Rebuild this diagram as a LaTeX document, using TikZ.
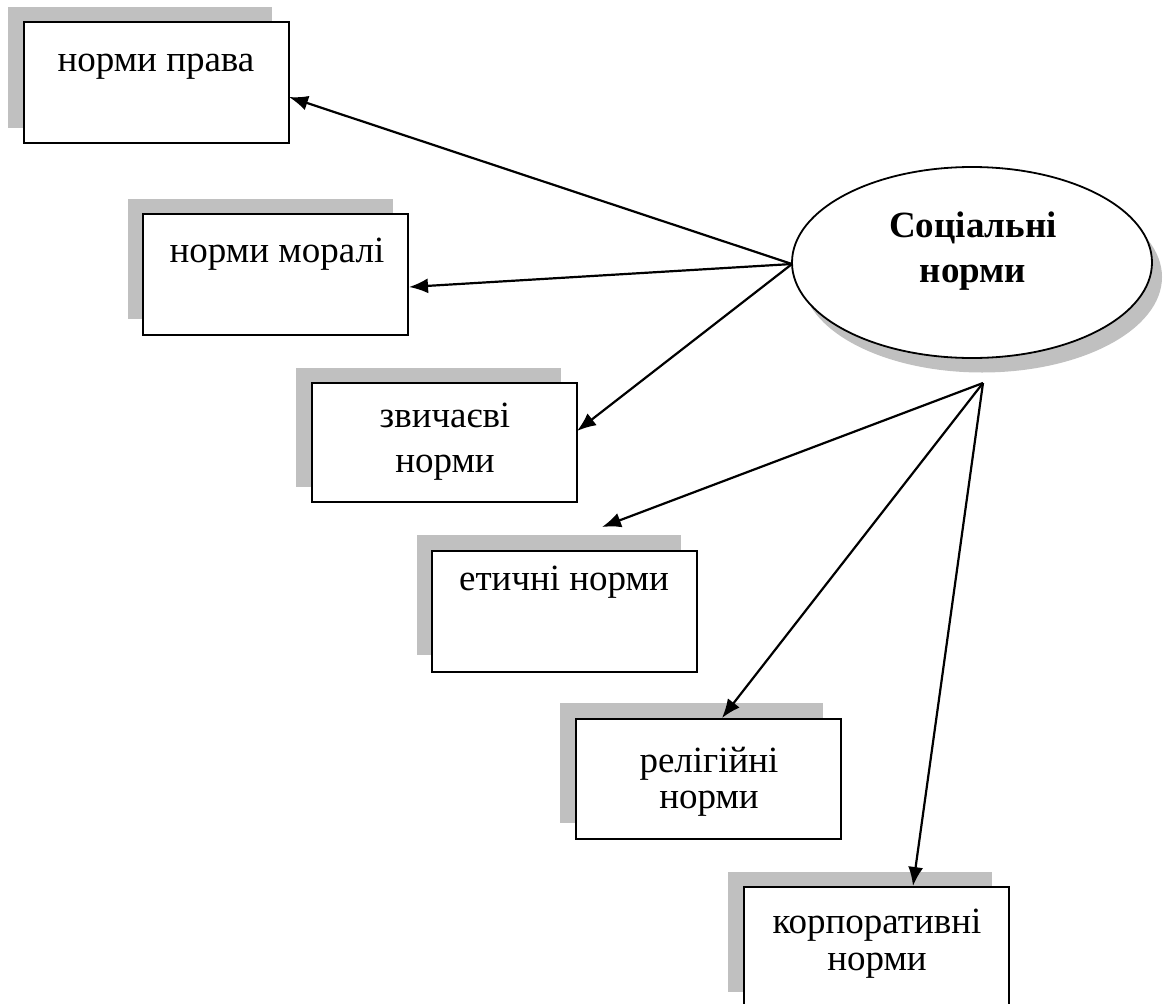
\documentclass[tikz,border=0pt]{standalone}
\usepackage{fontspec}
\setmainfont{Liberation Serif}
\usetikzlibrary{shapes.geometric,arrows.meta}
\definecolor{shadowgray}{RGB}{192,192,192}
\tikzset{
  boxnode/.style={draw=black, line width=2pt, fill=white, anchor=north west,
    minimum width=265pt, minimum height=121pt, inner sep=0pt, outer sep=0pt},
  shadowfill/.style={fill=shadowgray, draw=none},
  txt/.style={font=\fontsize{37pt}{44pt}\selectfont, anchor=base, inner sep=0pt},
  btxt/.style={font=\fontsize{37pt}{44pt}\selectfont\bfseries, anchor=base, inner sep=0pt},
  arr/.style={line width=2.2pt, -{Latex[length=19pt,width=15pt]}},
}
\begin{document}
\begin{tikzpicture}[x=1pt,y=-1pt]
\useasboundingbox (0,0) rectangle (1165,1004);
% shadows of boxes
\fill[shadowfill] (8,7) rectangle (272,128);
\fill[shadowfill] (128,199) rectangle (393,319);
\fill[shadowfill] (296,368) rectangle (561,487);
\fill[shadowfill] (417,535) rectangle (681,655);
\fill[shadowfill] (560,703) rectangle (823,823);
\fill[shadowfill] (728,872) rectangle (992,992);
% boxes
\node[boxnode] (b1) at (24,22) {};
\node[boxnode] (b2) at (143,214) {};
\node[boxnode, minimum height=119pt] (b3) at (312,383) {};
\node[boxnode] (b4) at (432,551) {};
\node[boxnode, minimum height=120pt] (b5) at (576,719) {};
\node[boxnode] (b6) at (744,887) {};
% texts
\node[txt] (t1) at (156,71) {норми права};
\node[txt] (t2) at (277,262) {норми моралі};
\node[txt] (t3a) at (445,427) {звичаєві};
\node[txt] (t3b) at (445,472) {норми};
\node[txt] (t4) at (564,590) {етичні норми};
\node[txt] (t5a) at (709,772) {релігійні};
\node[txt] (t5b) at (709,808) {норми};
\node[txt] (t6a) at (877,933) {корпоративні};
\node[txt] (t6b) at (877,970) {норми};
% ellipse
\node[ellipse, shadowfill, minimum width=360pt, minimum height=191pt, inner sep=0pt] (Es) at (982,277) {};
\node[ellipse, draw=black, line width=1.8pt, fill=white, minimum width=360pt, minimum height=191pt, inner sep=0pt, outer sep=0pt] (E) at (972,262.5) {};
\node[btxt] (te1) at (973,237) {Соціальні};
\node[btxt] (te2) at (973,282) {норми};
% connectors
\coordinate (o1) at (792,264);
\coordinate (o2) at (983,383);
\coordinate (a1) at (289,97);
\coordinate (a2) at (409,287);
\coordinate (a3) at (577,431);
\coordinate (a4) at (602,527);
\coordinate (a5) at (722,718);
\coordinate (a6) at (913,886);
\draw[arr] (o1) -- (a1);
\draw[arr] (o1) -- (a2);
\draw[arr] (o1) -- (a3);
\draw[arr] (o2) -- (a4);
\draw[arr] (o2) -- (a5);
\draw[arr] (o2) -- (a6);
\end{tikzpicture}
\end{document}
